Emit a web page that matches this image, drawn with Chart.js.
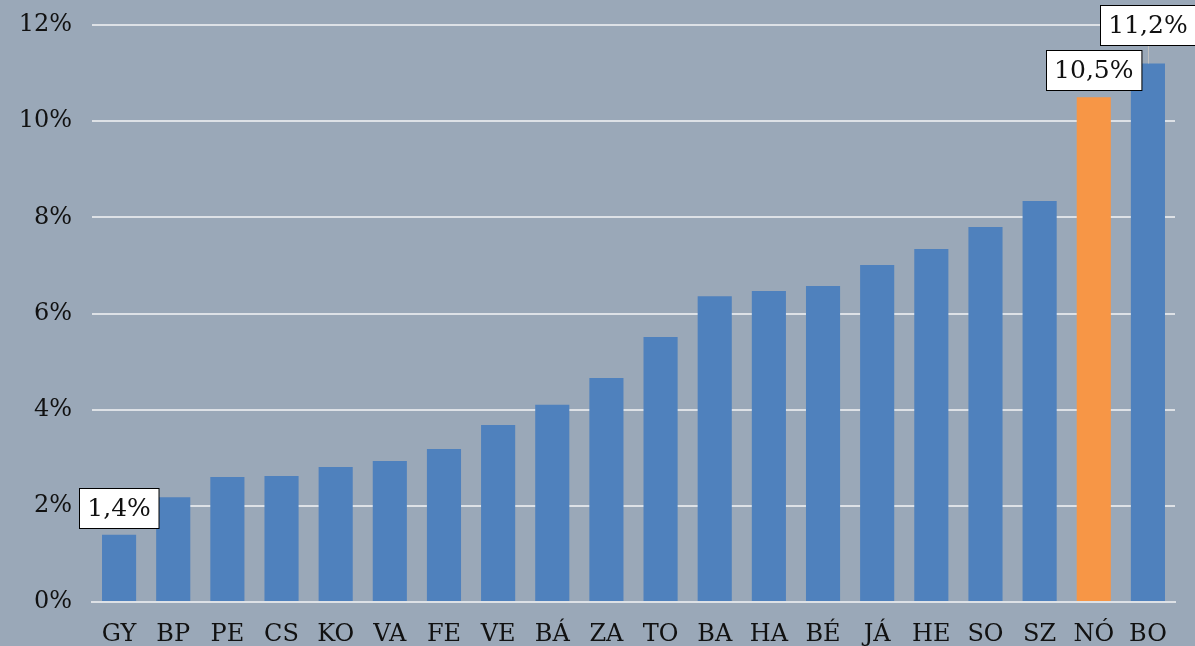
<!DOCTYPE html>
<html>
<head>
<meta charset="utf-8">
<script src="https://cdn.jsdelivr.net/npm/chart.js@4/dist/chart.umd.min.js"></script>
<style>
  html, body { margin: 0; padding: 0; background: #9aa8b8; }
  #wrap { width: 1195px; height: 646px; position: relative; }
</style>
</head>
<body>
<div id="wrap"><canvas id="shareChart"></canvas></div>
<script>
// county codes and values (%)
const categories = ['GY', 'BP', 'PE', 'CS', 'KO', 'VA', 'FE', 'VE', 'BÁ', 'ZA',
  'TO', 'BA', 'HA', 'BÉ', 'JÁ', 'HE', 'SO', 'SZ', 'NÓ', 'BO'];
const values = [1.4, 2.18, 2.6, 2.62, 2.81, 2.93, 3.18, 3.68, 4.1, 4.66,
  5.51, 6.36, 6.47, 6.57, 7.01, 7.34, 7.8, 8.34, 10.5, 11.2];
const highlighted = 'NÓ';
const labelledBars = ['GY', 'NÓ', 'BO'];
const yTicks = [0, 2, 4, 6, 8, 10, 12];

const FONT = '"DejaVu Serif", serif';

const barColors = categories.map(c => c === highlighted ? '#f79646' : '#4f81bd');

// extra lift for a label box, Excel style (BO box was dragged up a bit)
const labelLift = { BO: 11 };

const bgPlugin = {
  id: 'bg',
  beforeDraw(chart) {
    const ctx = chart.ctx;
    ctx.save();
    ctx.fillStyle = '#9aa8b8';
    ctx.fillRect(0, 0, chart.width, chart.height);
    ctx.restore();
  }
};

const boxLabels = {
  id: 'boxLabels',
  afterDatasetsDraw(chart) {
    const ctx = chart.ctx;
    const meta = chart.getDatasetMeta(0);
    ctx.save();
    ctx.font = '25px ' + FONT;
    ctx.textAlign = 'center';
    ctx.textBaseline = 'middle';
    labelledBars.forEach(code => {
      const i = categories.indexOf(code);
      const bar = meta.data[i];
      const text = values[i].toFixed(1).replace('.', ',') + '%';
      const w = ctx.measureText(text).width + 16;
      const h = 40;
      const lift = labelLift[code] || 0;
      const bottom = bar.y - 7 - lift;
      const left = Math.round(bar.x - w / 2) + 0.5;
      const top = Math.round(bottom - h) + 0.5;
      if (lift) {
        ctx.strokeStyle = '#bfbfbf';
        ctx.lineWidth = 1;
        ctx.beginPath();
        ctx.moveTo(Math.round(bar.x) + 0.5, bottom);
        ctx.lineTo(Math.round(bar.x) + 0.5, bar.y);
        ctx.stroke();
      }
      ctx.fillStyle = '#ffffff';
      ctx.fillRect(left, top, w, h);
      ctx.strokeStyle = '#000000';
      ctx.lineWidth = 1;
      ctx.strokeRect(left, top, w, h);
      ctx.fillStyle = '#111111';
      ctx.fillText(text, bar.x, top + h / 2 + 1);
    });
    ctx.restore();
  }
};

new Chart(document.getElementById('shareChart'), {
  type: 'bar',
  data: {
    labels: categories,
    datasets: [{
      data: values,
      backgroundColor: barColors,
      borderWidth: 0,
      barPercentage: 0.63,
      categoryPercentage: 1
    }]
  },
  options: {
    responsive: true,
    maintainAspectRatio: false,
    animation: false,
    layout: { padding: { top: 25, right: 20, left: 0, bottom: 0 } },
    plugins: {
      legend: { display: false },
      tooltip: { enabled: false }
    },
    scales: {
      x: {
        grid: { display: false, drawTicks: false },
        border: { display: true, color: '#dde1e6', width: 2 },
        ticks: {
          color: '#111111',
          font: { family: FONT, size: 24 },
          padding: 18,
          autoSkip: false,
          maxRotation: 0
        },
        afterFit(scale) { scale.height = 44; }
      },
      y: {
        min: 0,
        max: 12,
        afterBuildTicks(scale) { scale.ticks = yTicks.map(v => ({ value: v })); },
        grid: { color: '#dde1e6', lineWidth: 2, drawTicks: false },
        border: { display: false },
        ticks: {
          color: '#111111',
          font: { family: FONT, size: 24 },
          padding: 20,
          callback: v => v + '%'
        },
        afterFit(scale) {
          scale.width = 92;
          scale.paddingTop = 0;
          scale.paddingBottom = 0;
        }
      }
    }
  },
  plugins: [bgPlugin, boxLabels]
});
</script>
</body>
</html>
